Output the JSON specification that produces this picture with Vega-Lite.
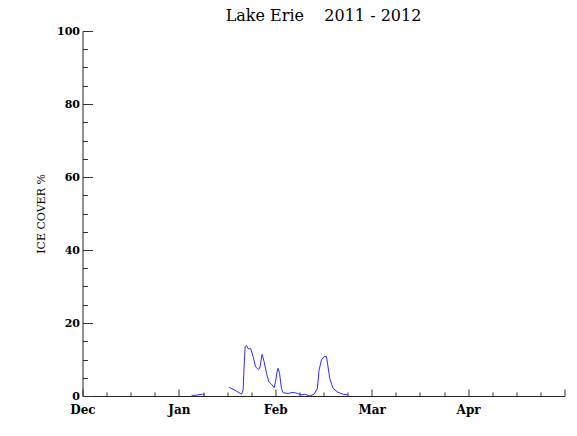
{
  "$schema": "https://vega.github.io/schema/vega-lite/v6.json",
  "width": 482,
  "height": 365,
  "autosize": {"type": "none"},
  "padding": {"left": 82.5, "top": 31, "right": 12, "bottom": 40},
  "background": "white",
  "title": {"text": "Lake Erie\u00a0\u00a0\u00a0\u00a02011 - 2012", "font": "DejaVu Serif", "fontSize": 16, "fontWeight": "normal", "color": "black", "offset": 1},
  "config": {
    "view": {"stroke": null},
    "axis": {"domainColor": "#222", "tickColor": "#333", "labelColor": "black", "titleColor": "black", "labelFont": "DejaVu Serif", "titleFont": "DejaVu Serif", "grid": false}
  },
  "data": {"values": [
    {"seg": "a", "month": 1.132, "ice": 0.2},
    {"seg": "a", "month": 1.176, "ice": 0.2},
    {"seg": "a", "month": 1.246, "ice": 0.5},
    {"seg": "a", "month": 1.269, "ice": 0.3},
    {"seg": "b", "month": 1.521, "ice": 2.4},
    {"seg": "b", "month": 1.580, "ice": 1.6},
    {"seg": "b", "month": 1.650, "ice": 0.5},
    {"seg": "b", "month": 1.666, "ice": 1.6},
    {"seg": "b", "month": 1.677, "ice": 8.5},
    {"seg": "b", "month": 1.687, "ice": 13.5},
    {"seg": "b", "month": 1.702, "ice": 13.8},
    {"seg": "b", "month": 1.718, "ice": 13.0},
    {"seg": "b", "month": 1.746, "ice": 12.9},
    {"seg": "b", "month": 1.770, "ice": 10.8},
    {"seg": "b", "month": 1.795, "ice": 8.0},
    {"seg": "b", "month": 1.822, "ice": 7.3},
    {"seg": "b", "month": 1.839, "ice": 7.6},
    {"seg": "b", "month": 1.863, "ice": 11.4},
    {"seg": "b", "month": 1.884, "ice": 9.4},
    {"seg": "b", "month": 1.909, "ice": 6.2},
    {"seg": "b", "month": 1.933, "ice": 3.9},
    {"seg": "b", "month": 1.961, "ice": 3.2},
    {"seg": "b", "month": 1.988, "ice": 2.3},
    {"seg": "b", "month": 2.002, "ice": 3.9},
    {"seg": "b", "month": 2.019, "ice": 6.7},
    {"seg": "b", "month": 2.029, "ice": 7.6},
    {"seg": "b", "month": 2.044, "ice": 6.2},
    {"seg": "b", "month": 2.064, "ice": 2.1},
    {"seg": "b", "month": 2.081, "ice": 0.9},
    {"seg": "b", "month": 2.133, "ice": 0.7},
    {"seg": "b", "month": 2.184, "ice": 1.0},
    {"seg": "b", "month": 2.230, "ice": 0.7},
    {"seg": "b", "month": 2.264, "ice": 0.3},
    {"seg": "b", "month": 2.306, "ice": 0.5},
    {"seg": "b", "month": 2.358, "ice": 0.0},
    {"seg": "b", "month": 2.402, "ice": 0.5},
    {"seg": "b", "month": 2.437, "ice": 2.1},
    {"seg": "b", "month": 2.454, "ice": 7.1},
    {"seg": "b", "month": 2.479, "ice": 9.9},
    {"seg": "b", "month": 2.506, "ice": 10.8},
    {"seg": "b", "month": 2.531, "ice": 10.8},
    {"seg": "b", "month": 2.547, "ice": 8.0},
    {"seg": "b", "month": 2.565, "ice": 4.8},
    {"seg": "b", "month": 2.599, "ice": 2.1},
    {"seg": "b", "month": 2.651, "ice": 1.0},
    {"seg": "b", "month": 2.703, "ice": 0.5},
    {"seg": "b", "month": 2.754, "ice": 0.3}
  ]},
  "mark": {"type": "line", "color": "#2b2bff", "strokeWidth": 1},
  "encoding": {
    "detail": {"field": "seg"},
    "x": {
      "field": "month", "type": "quantitative",
      "scale": {"domain": [0, 5], "nice": false, "zero": false},
      "axis": {
        "title": null,
        "values": [0, 0.25, 0.5, 0.75, 1, 1.25, 1.5, 1.75, 2, 2.25, 2.5, 2.75, 3, 3.25, 3.5, 3.75, 4, 4.25, 4.5, 4.75, 5],
        "labelExpr": "datum.value % 1 === 0 ? ['Dec','Jan','Feb','Mar','Apr',''][datum.value] : ''",
        "tickSize": {"condition": {"test": "datum.value % 1 === 0", "value": -7}, "value": -4},
        "labelFontSize": 12, "labelFontWeight": "bold",
        "labelPadding": 15, "labelFlush": false, "labelOverlap": false
      }
    },
    "y": {
      "field": "ice", "type": "quantitative",
      "scale": {"domain": [0, 100], "nice": false},
      "axis": {
        "title": "ICE COVER %", "titleFontSize": 11, "titleFontWeight": "normal", "titlePadding": 10,
        "values": [0, 5, 10, 15, 20, 25, 30, 35, 40, 45, 50, 55, 60, 65, 70, 75, 80, 85, 90, 95, 100],
        "labelExpr": "datum.value % 20 === 0 ? datum.label : ''",
        "tickSize": {"condition": {"test": "datum.value % 20 === 0", "value": -10}, "value": -5},
        "labelFontSize": 11, "labelFontWeight": "bold",
        "labelPadding": 13, "labelFlush": false, "labelOverlap": false
      }
    }
  }
}
